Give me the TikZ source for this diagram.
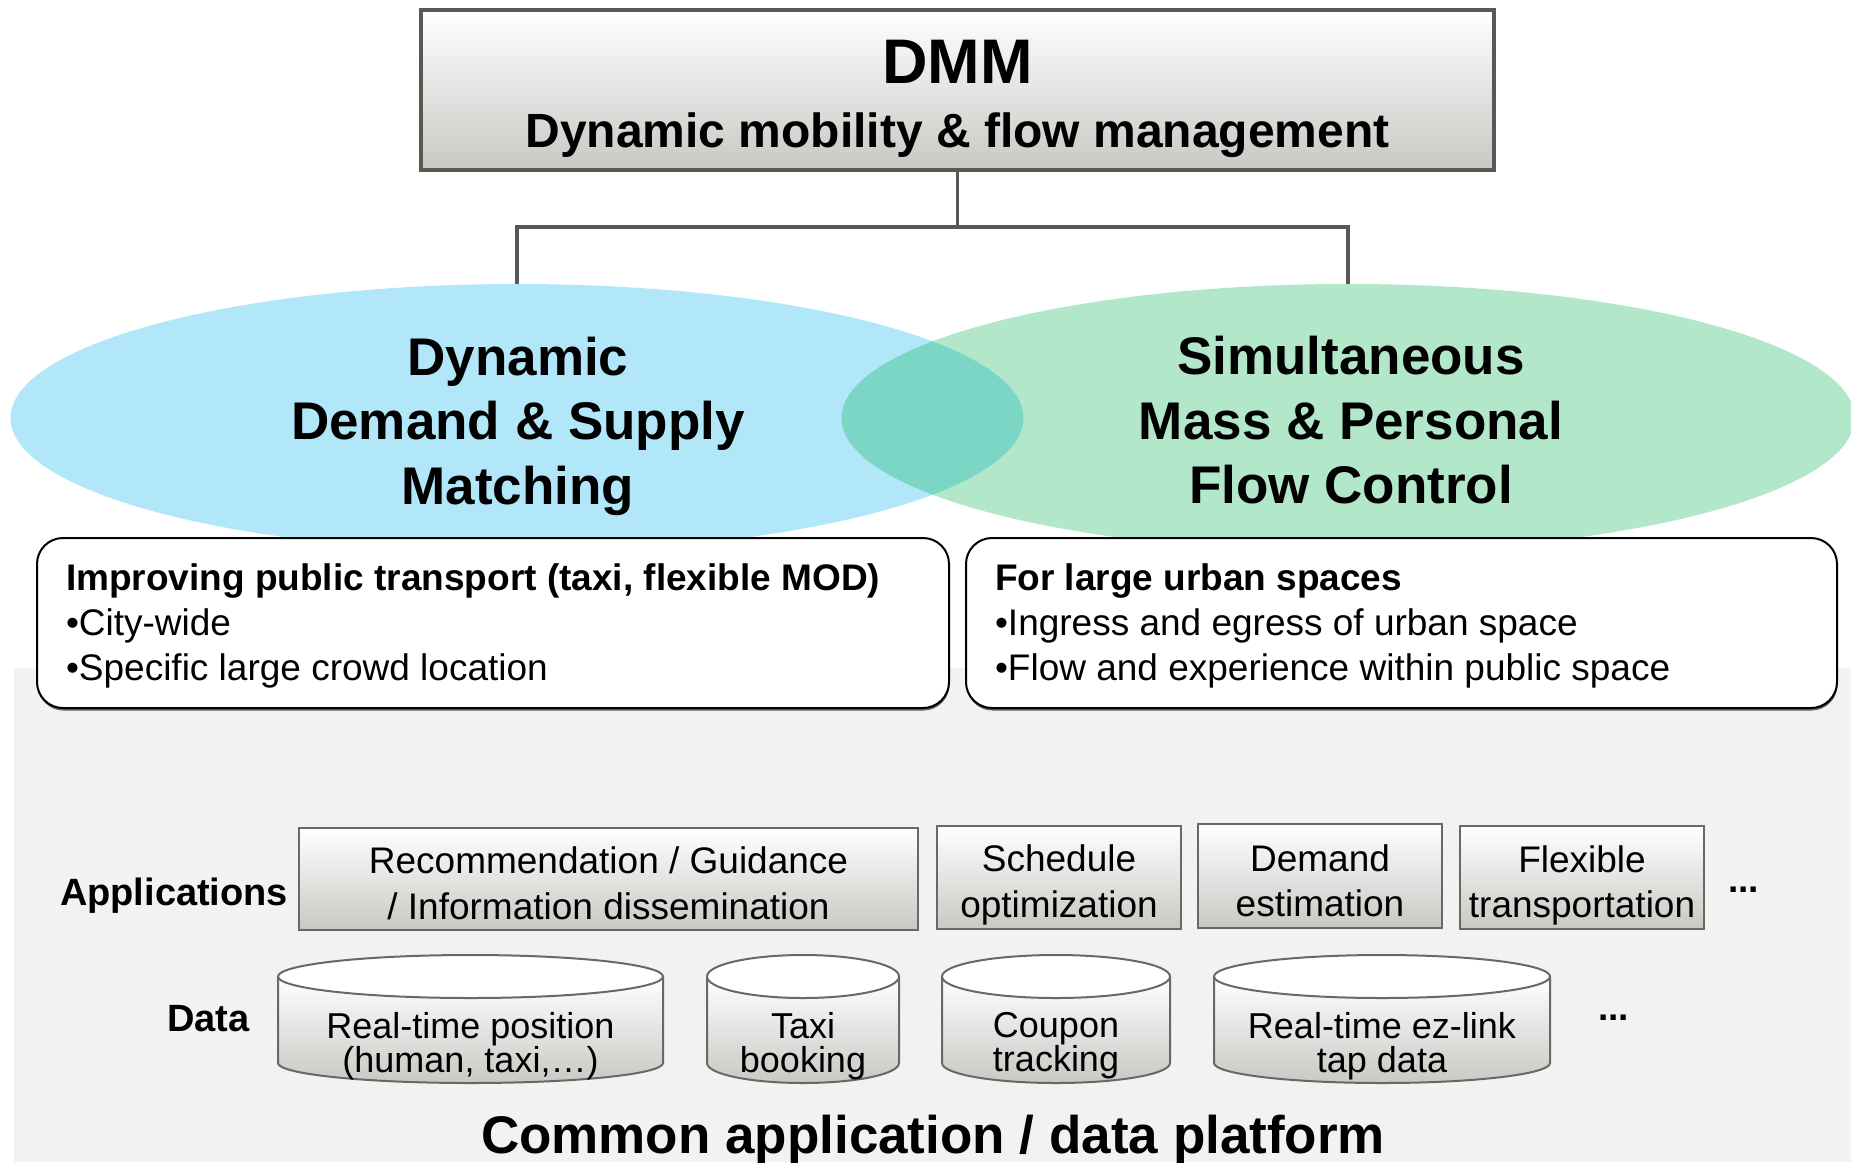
\documentclass[tikz,border=0pt]{standalone}
\usepackage{fontspec}
\setmainfont{Liberation Sans}
\usetikzlibrary{shapes.geometric,shadows}

\definecolor{frame}{RGB}{89,89,84}
\definecolor{shadebot}{RGB}{200,200,196}
\definecolor{boxline}{RGB}{105,105,100}
\definecolor{platform}{RGB}{242,242,242}
\definecolor{dsblue}{RGB}{0,176,240}
\definecolor{mfgreen}{RGB}{0,176,80}

% lines are spaced by baselineskip only, even when glyphs come close
\newcommand\tightlines{\lineskiplimit=-100pt\relax}

% data store drawn as a cylinder: #1 name, #2 centre x, #3 half width, #4 label
\newcommand\datastore[4]{%
  \fill[top color=white, bottom color=shadebot]
    (#2-#3,976.5) -- (#2-#3,1063) arc[start angle=180, end angle=0, x radius=#3, y radius=20]
    -- (#2+#3,976.5) -- cycle;
  \draw[boxline, line width=2pt]
    (#2-#3,976.5) -- (#2-#3,1063) arc[start angle=180, end angle=0, x radius=#3, y radius=20]
    -- (#2+#3,976.5);
  \filldraw[fill=white, draw=boxline, line width=2pt] (#2,976.5) ellipse[x radius=#3, y radius=21.5];
  \node[cyltext] (#1) at (#2,1012.5) {#4};
}

\begin{document}
\begin{tikzpicture}[x=1pt, y=-1pt,
  every node/.style={inner sep=0pt, outer sep=0pt},
  headbox/.style={draw=frame, line width=4.5pt, top color=white, bottom color=shadebot},
  link/.style={draw=frame, line width=3.5pt},
  venn/.style={ellipse, minimum width=1013pt, minimum height=268pt, fill opacity=0.3},
  venntext/.style={align=center, anchor=north, font=\fontsize{53}{64.5}\selectfont\bfseries},
  infobox/.style={draw=black, line width=2pt, rounded corners=26pt, fill=white, minimum height=170pt,
    drop shadow={shadow xshift=0.5pt, shadow yshift=-2.5pt, opacity=0.6, fill=black}},
  infotext/.style={align=left, anchor=north west, font=\fontsize{37}{45}\selectfont\tightlines},
  appbox/.style={draw=boxline, line width=2pt, top color=white, bottom color=shadebot},
  apptext/.style={align=center, anchor=north, font=\fontsize{37}{45.5}\selectfont\tightlines},
  rowlabel/.style={anchor=base west, font=\fontsize{38}{40}\selectfont\bfseries},
  cyltext/.style={align=center, anchor=north, font=\fontsize{36}{34}\selectfont\tightlines},
  more/.style={anchor=base west, font=\fontsize{37}{40}\selectfont\bfseries},
]
\useasboundingbox (0,0) rectangle (1851,1162);
\clip (0,0) rectangle (1851,1162);

% platform background
\node[fill=platform, anchor=north west, minimum width=1837pt, minimum height=494pt] (platformbg) at (14,668) {};

% two overlapping goal areas
\node[venn, fill=dsblue] (dsm) at (517,418) {};
\node[venn, fill=mfgreen] (mfc) at (1348,418) {};
\node[venntext] (dsmtext) at (518,337) {Dynamic\\Demand \& Supply\\Matching};
\node[venntext] (mfctext) at (1351,336.5) {Simultaneous\\Mass \& Personal\\Flow Control};

% head box
\node[headbox, minimum width=1073pt, minimum height=160pt] (head) at (957.5,90) {};
\node[anchor=base, font=\fontsize{63}{70}\selectfont\bfseries] (headtitle) at (957.5,83) {DMM};
\node[anchor=base, font=\fontsize{48}{55}\selectfont\bfseries] (headsub) at (957.5,147) {Dynamic mobility \& flow management};

% tree connector
\coordinate (bus) at (957.5,227);
\draw[link] (head.south) -- (bus);
\draw[link] (dsm.north) |- (bus) -| (mfc.north);

% description boxes
\node[infobox, minimum width=912pt] (lbox) at (493,623) {};
\node[infobox, minimum width=871pt] (rbox) at (1401.5,623) {};
\node[infotext] (ltext) at (66,564) {\textbf{Improving public transport (taxi, flexible MOD)}\\•City-wide\\•Specific large crowd location};
\node[infotext] (rtext) at (995,564) {\textbf{For large urban spaces}\\•Ingress and egress of urban space\\•Flow and experience within public space};

% applications row
\node[rowlabel] (applbl) at (60,905) {Applications};
\node[appbox, minimum width=619pt, minimum height=102pt] (app1) at (608.5,879) {};
\node[appbox, minimum width=244pt, minimum height=103pt] (app2) at (1059,877.5) {};
\node[appbox, minimum width=244pt, minimum height=104pt] (app3) at (1320,876) {};
\node[appbox, minimum width=244pt, minimum height=103pt] (app4) at (1582,877.5) {};
\node[apptext] (app1t) at (608.5,847) {Recommendation / Guidance\\/ Information dissemination};
\node[apptext] (app2t) at (1059,845) {Schedule\\optimization};
\node[apptext] (app3t) at (1320,844.5) {Demand\\estimation};
\node[apptext] (app4t) at (1582,845.5) {Flexible\\transportation};
\node[more] (appmore) at (1728,892) {...};

% data row
\node[rowlabel] (datalbl) at (167,1031) {Data};
\datastore{d1}{470.5}{192.5}{Real-time position\\(human, taxi,\dots)}
\datastore{d2}{803}{96}{Taxi\\booking}
\datastore{d3}{1056}{114}{Coupon\\tracking}
\datastore{d4}{1382}{168}{Real-time ez-link\\tap data}
\node[more] (datamore) at (1598,1020) {...};

\node[anchor=base, font=\fontsize{53}{60}\selectfont\bfseries] (platformlbl) at (933,1153) {Common application / data platform};
\end{tikzpicture}
\end{document}
